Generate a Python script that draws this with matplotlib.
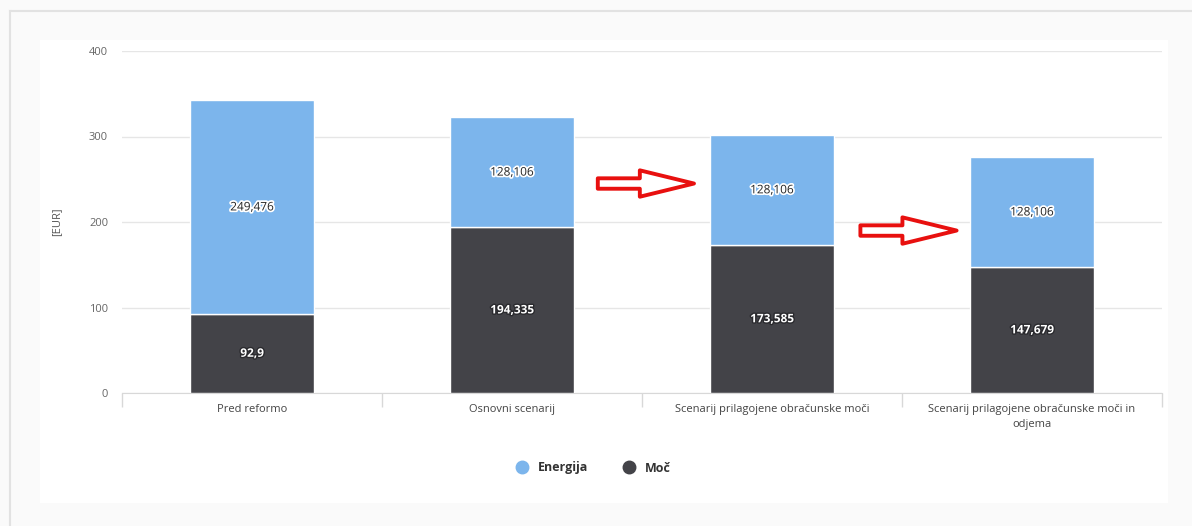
import matplotlib.pyplot as plt
from matplotlib.patches import Rectangle
from matplotlib.lines import Line2D
import matplotlib.patheffects as pe

plt.rcParams['font.family'] = ['Open Sans', 'DejaVu Sans']

# --- Data ---
categories = ["Pred reformo", "Osnovni scenarij",
              "Scenarij prilagojene obračunske moči",
              "Scenarij prilagojene obračunske moči in\nodjema"]
moc = [92.9, 194.335, 173.585, 147.679]
energija = [249.476, 128.106, 128.106, 128.106]
moc_labels = ["92,9", "194,335", "173,585", "147,679"]
energija_labels = ["249,476", "128,106", "128,106", "128,106"]

COL_ENERGIJA = '#7cb5ec'
COL_MOC = '#434348'

W, H = 1192, 526
fig = plt.figure(figsize=(W / 100, H / 100), dpi=100, facecolor='#fafafa')

# page frame and white chart container
fig.add_artist(Line2D([10 / W, 1], [1 - 11 / H, 1 - 11 / H], color='#e2e2e2', lw=1.5))
fig.add_artist(Line2D([10 / W, 10 / W], [0, 1 - 11 / H], color='#e2e2e2', lw=1.5))
fig.add_artist(Rectangle((40 / W, 1 - 503 / H), 1128 / W, 463 / H,
                         facecolor='white', edgecolor='none', zorder=0))

ax = fig.add_axes([122 / W, 1 - 393 / H, 1040 / W, 342 / H])
ax.set_facecolor('none')

x = range(len(categories))
bw = 0.48
ax.bar(x, moc, width=bw, color=COL_MOC, edgecolor='white', linewidth=1, zorder=3)
ax.bar(x, energija, width=bw, bottom=moc, color=COL_ENERGIJA, edgecolor='white',
       linewidth=1, zorder=3)

# value labels inside the stacks
for i in x:
    ax.text(i, moc[i] / 2, moc_labels[i], ha='center', va='center', fontsize=8.5,
            fontweight='bold', color='white', zorder=5,
            path_effects=[pe.withStroke(linewidth=2, foreground='#2a2a2e')])
    ax.text(i, moc[i] + energija[i] / 2, energija_labels[i], ha='center', va='center',
            fontsize=8.5, color='#222222', zorder=5,
            path_effects=[pe.withStroke(linewidth=2.5, foreground='white')])

# red hollow arrows between scenarios
arrow_style = 'simple,head_length=3.9,head_width=1.9,tail_width=0.75'
for x0, x1, y in [(1.33, 1.70, 245), (2.34, 2.71, 190)]:
    ax.annotate('', xy=(x1, y), xytext=(x0, y),
                arrowprops=dict(arrowstyle=arrow_style, mutation_scale=10,
                                fc='white', ec='#e8100f', lw=2.8,
                                shrinkA=0, shrinkB=0), zorder=6)

ax.set_xlim(-0.5, 3.5)
ax.set_ylim(0, 400)
ax.set_yticks([0, 100, 200, 300, 400])
ax.grid(axis='y', color='#e6e6e6', lw=1, zorder=0)
ax.set_axisbelow(True)

ax.set_xticks(list(x))
ax.set_xticklabels(categories, fontsize=8, color='#444444', linespacing=1.5)
ax.tick_params(axis='x', length=0, pad=8)
ax.set_xticks([-0.5, 0.5, 1.5, 2.5, 3.5], minor=True)
ax.tick_params(axis='x', which='minor', length=10, color='#d8d8d8', width=1)
ax.tick_params(axis='y', length=0, labelsize=8, labelcolor='#666666', pad=10)

for side in ['top', 'right', 'left']:
    ax.spines[side].set_visible(False)
ax.spines['bottom'].set_color('#d8d8d8')

ax.set_ylabel('[EUR]', fontsize=8, color='#555555')
ax.yaxis.set_label_coords((62 - 122) / 1040, 0.5)

# legend
handles = [Line2D([], [], marker='o', ls='none', markersize=9, color=COL_ENERGIJA),
           Line2D([], [], marker='o', ls='none', markersize=9, color=COL_MOC)]
leg = fig.legend(handles, ['Energija', 'Moč'], loc='center', ncol=2,
                 bbox_to_anchor=(590 / W, 1 - 468 / H), frameon=False,
                 fontsize=9, handletextpad=0.3, columnspacing=2.2)
for t in leg.get_texts():
    t.set_color('#333333')
    t.set_fontweight('bold')

fig.savefig('out.png', dpi=100, facecolor=fig.get_facecolor())
